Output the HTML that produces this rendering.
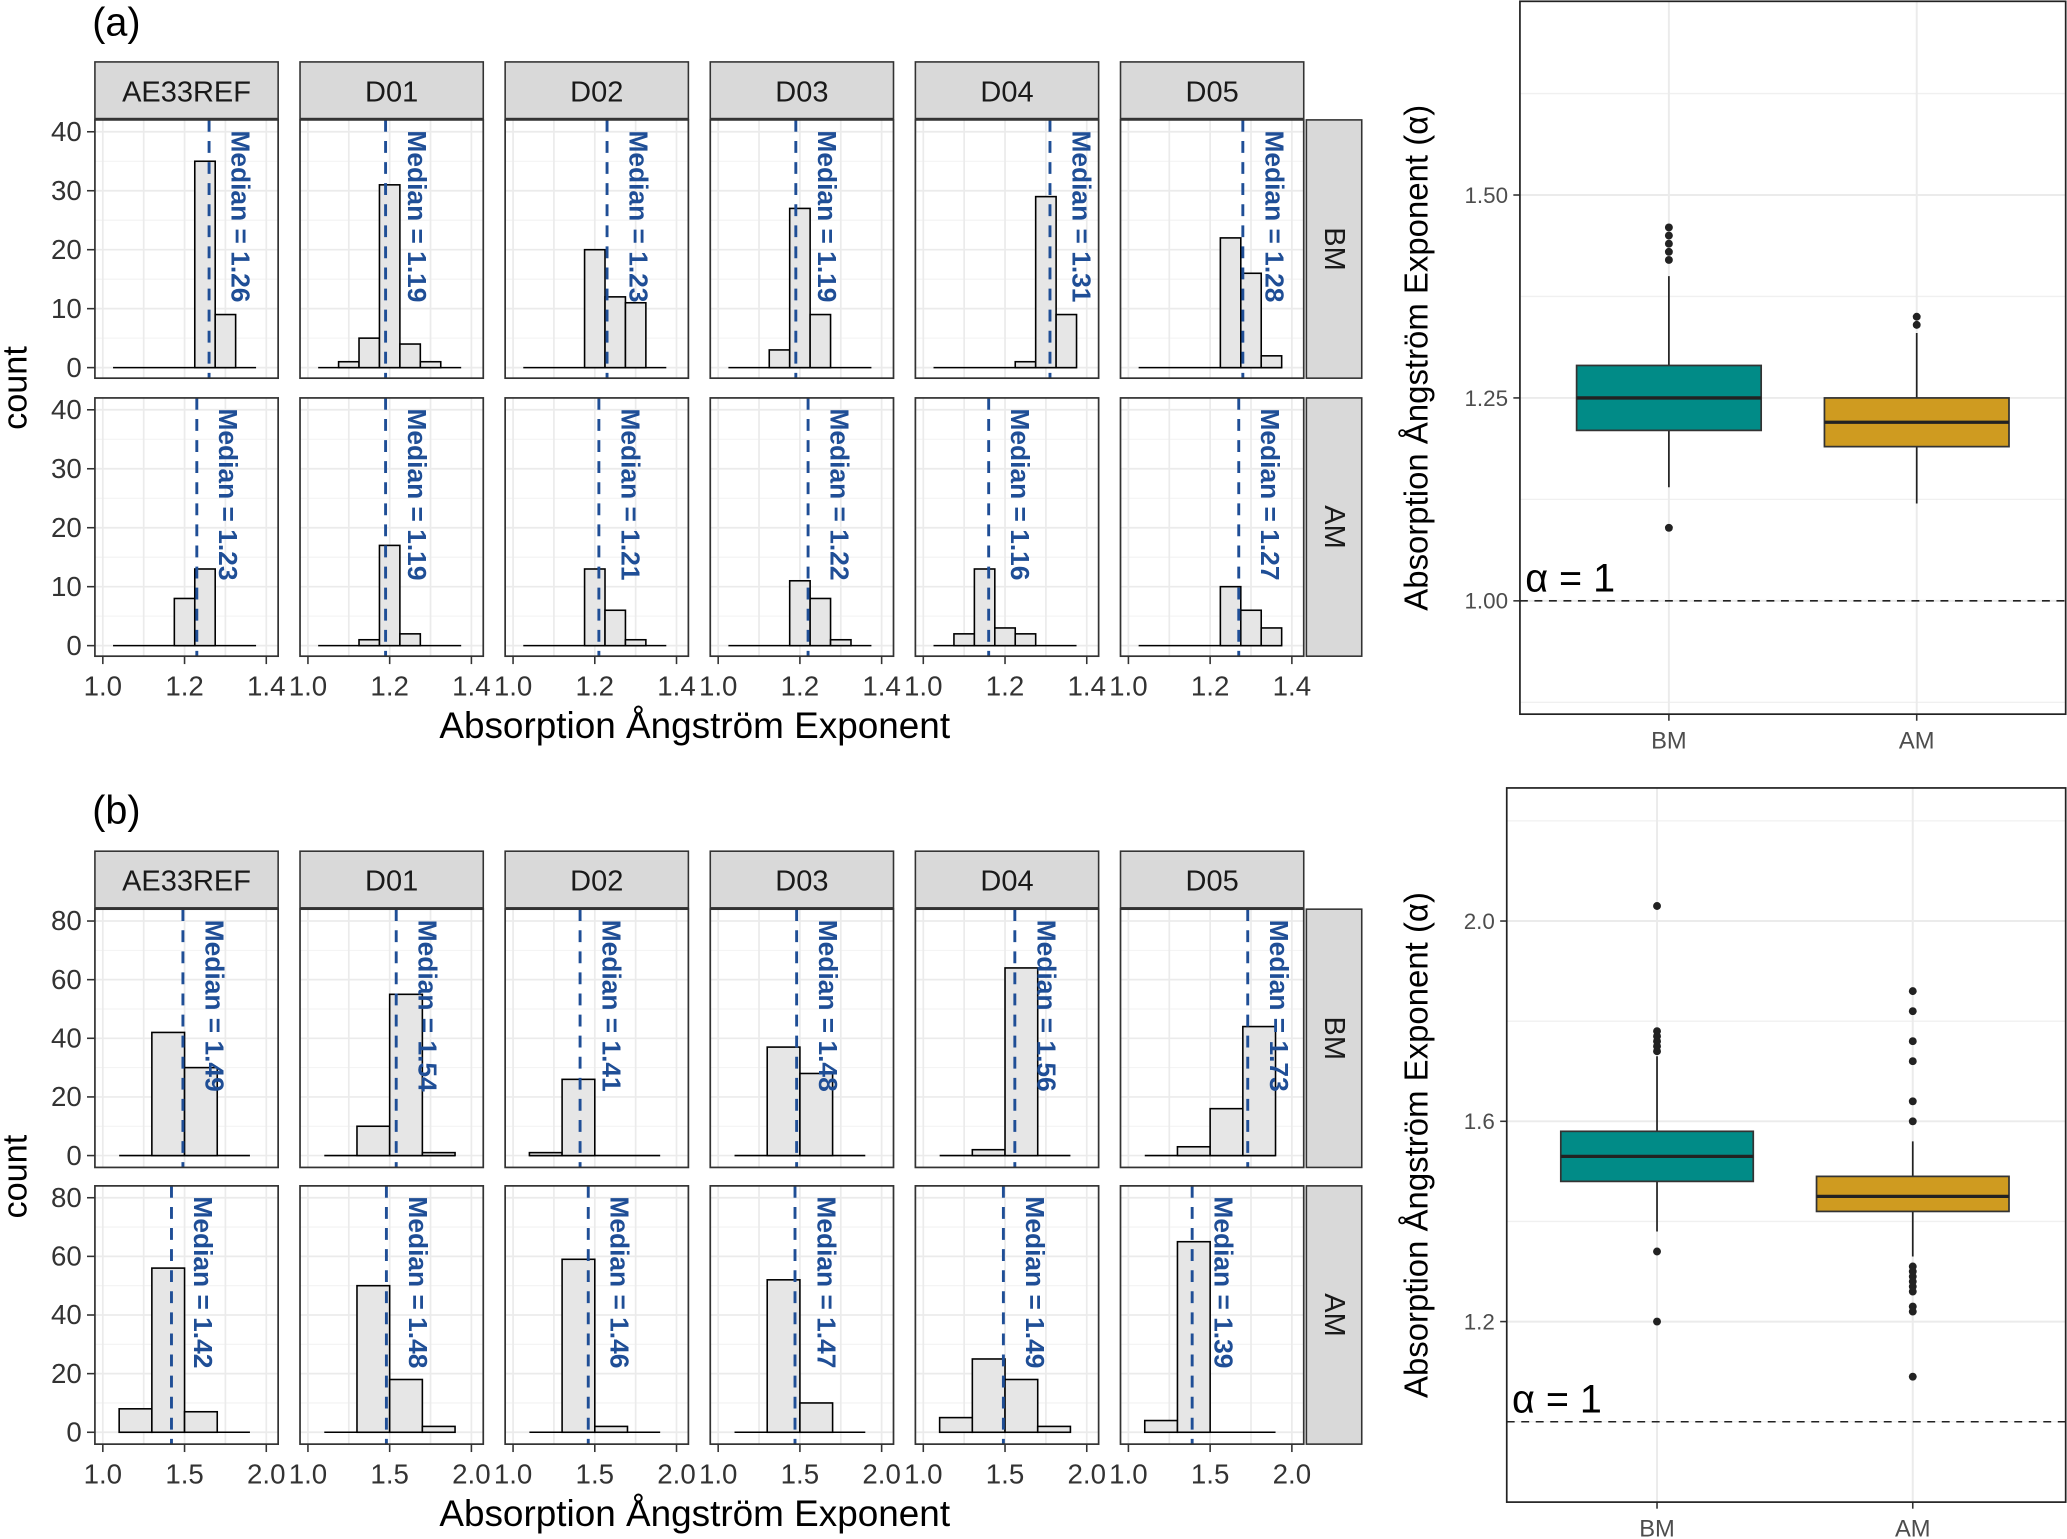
<!DOCTYPE html>
<html><head><meta charset="utf-8"><style>
html,body{margin:0;padding:0;background:#fff;}
svg{display:block;font-family:"Liberation Sans",sans-serif;}
</style></head><body>
<svg id="fig" width="2067" height="1539" viewBox="0 0 1568 1168" preserveAspectRatio="none"></svg>
<script>
// ---------- DATA ----------
const devices = ["AE33REF","D01","D02","D03","D04","D05"];
const rowsLab = ["BM","AM"];
// panel (a) bins centers (width 0.05)
const binsA = [1.05,1.10,1.15,1.20,1.25,1.30,1.35];
const countsA_BM = [[0,0,0,0,35,9,0],[0,1,5,31,4,1,0],[0,0,0,20,12,11,0],[0,0,3,27,9,0,0],[0,0,0,0,1,29,9],[0,0,0,0,22,16,2]];
const countsA_AM = [[0,0,0,8,13,0,0],[0,0,1,17,2,0,0],[0,0,0,13,6,1,0],[0,0,0,11,8,1,0],[0,2,13,3,2,0,0],[0,0,0,0,10,6,3]];
const medA_BM = [1.26,1.19,1.23,1.19,1.31,1.28];
const medA_AM = [1.23,1.19,1.21,1.22,1.16,1.27];
// panel (b) bins (width 0.2)
const binsB = [1.2,1.4,1.6,1.8];
const countsB_BM = [[0,42,30,0],[0,10,55,1],[1,26,0,0],[0,37,28,0],[0,2,64,0],[0,3,16,44]];
const countsB_AM = [[8,56,7,0],[0,50,18,2],[0,59,2,0],[0,52,10,0],[5,25,18,2],[4,65,0,0]];
const medB_BM = [1.49,1.54,1.41,1.48,1.56,1.73];
const medB_AM = [1.42,1.48,1.46,1.47,1.49,1.39];
const xTicksA = [1.0,1.2,1.4], xTickLabA = ["1.0","1.2","1.4"];
const xTicksB = [1.0,1.5,2.0], xTickLabB = ["1.0","1.5","2.0"];
const yTicksA = [0,10,20,30,40], yTicksB = [0,20,40,60,80];
// boxplot stats [low whisker, q1, median, q3, high whisker]
const boxA_BM = [1.14,1.21,1.25,1.29,1.40], boxA_AM = [1.12,1.19,1.22,1.25,1.33];
const outA_BM = [1.09,1.42,1.43,1.44,1.45,1.46], outA_AM = [1.34,1.35];
const boxB_BM = [1.38,1.48,1.53,1.58,1.73], boxB_AM = [1.33,1.42,1.45,1.49,1.56];
const outB_BM = [1.34,1.20,2.03,1.74,1.75,1.76,1.77,1.78], outB_AM = [1.86,1.82,1.76,1.72,1.64,1.60,1.31,1.30,1.29,1.28,1.27,1.26,1.23,1.22,1.09];
const boxTicksA = [1.00,1.25,1.50], boxTickLabA = ["1.00","1.25","1.50"];
const boxTicksB = [1.2,1.6,2.0], boxTickLabB = ["1.2","1.6","2.0"];

// ---------- DRAW ----------
const svg = document.getElementById('fig');
const NS = "http://www.w3.org/2000/svg";
function el(tag, attrs, parent, text){
  const e = document.createElementNS(NS, tag);
  for (const k in attrs) e.setAttribute(k, attrs[k]);
  if (text !== undefined) e.textContent = text;
  (parent||svg).appendChild(e); return e;
}
const panelX = [72,227.6,383.2,538.8,694.4,850];
const PW = 139;

function histFigure(cfg){
  const g = el('g', {}, svg);
  
  
  el('text',{x:70,y:cfg.labelY,'font-size':30,fill:'#000'},g,cfg.label);
  devices.forEach((d,i)=>{
    const s = el('rect',{x:panelX[i],y:cfg.stripY,width:PW,height:43,fill:'#d9d9d9',stroke:'#333','stroke-width':1.2},g);
    
    
    el('text',{x:panelX[i]+PW/2,y:cfg.stripY+30,'text-anchor':'middle','font-size':22,fill:'#1a1a1a'},g,d);
  });
  const rowsY = cfg.rowsY;
  rowsLab.forEach((r,ri)=>{
    const top = rowsY[ri], h = 196;
    const s = el('rect',{x:991,y:top,width:42,height:h,fill:'#d9d9d9',stroke:'#333','stroke-width':1.2},g);
    
    
    el('text',{x:1012,y:top+h/2,'text-anchor':'middle','font-size':22,fill:'#1a1a1a',transform:`rotate(90 1012 ${top+h/2})`,dy:7},g,r);
    const y0 = top + cfg.zeroOff, yTop = top + cfg.topOff;
    const yS = v => y0 - (v/cfg.yMax)*(y0-yTop);
    cfg.yTicks.forEach(t=>{
      el('line',{x1:66,x2:72,y1:yS(t),y2:yS(t),stroke:'#333','stroke-width':1.2},g);
      el('text',{x:62,y:yS(t)+7,'text-anchor':'end','font-size':21,fill:'#333'},g,String(t));
    });
    devices.forEach((d,i)=>{
      const px = panelX[i];
      const xS = v => px + 6 + (v-1.0)*cfg.xUnit;
      const pg = el('g',{},g);
      
      
      el('rect',{x:px,y:top,width:PW,height:h,fill:'#fff'},pg);
      cfg.yTicks.forEach((t,k)=>{
        el('line',{x1:px,x2:px+PW,y1:yS(t),y2:yS(t),stroke:'#ebebeb','stroke-width':1.3},pg);
        if(k<cfg.yTicks.length-1){const m=(t+cfg.yTicks[k+1])/2;el('line',{x1:px,x2:px+PW,y1:yS(m),y2:yS(m),stroke:'#f2f2f2','stroke-width':0.8},pg);}
      });
      cfg.xGrid.forEach(t=>{
        el('line',{x1:xS(t),x2:xS(t),y1:top,y2:top+h,stroke:'#ebebeb','stroke-width':1.3},pg);
      });
      const counts = cfg.counts[ri][i];
      const bins = cfg.bins, bw = cfg.bw;
      el('line',{x1:xS(bins[0]-bw/2),x2:xS(bins[bins.length-1]+bw/2),y1:y0,y2:y0,stroke:'#000','stroke-width':1.2},pg);
      counts.forEach((c,k)=>{
        if(c<=0) return;
        const b = el('rect',{x:xS(bins[k]-bw/2),y:yS(c),width:xS(bins[k]+bw/2)-xS(bins[k]-bw/2),height:y0-yS(c),fill:'#e6e6e6',stroke:'#000','stroke-width':1.2},pg);
        
        
      });
      const med = cfg.meds[ri][i];
      el('line',{x1:xS(med),x2:xS(med),y1:top,y2:top+h,stroke:'#1f4e96','stroke-width':2.2,'stroke-dasharray':'9,7'},pg);
      const tx = xS(med)+cfg.medOff;
      const mt = el('text',{x:tx,y:top+8,'font-size':20,'font-weight':'bold',fill:'#1f4e96',transform:`rotate(90 ${tx} ${top+8})`},pg,'Median = '+med.toFixed(2));
      
      
      el('rect',{x:px,y:top,width:PW,height:h,fill:'none',stroke:'#333','stroke-width':1.3},pg);
      if(ri===1){
        cfg.xTicks.forEach((t,k)=>{
          el('line',{x1:xS(t),x2:xS(t),y1:top+h,y2:top+h+6,stroke:'#333','stroke-width':1.2},g);
          el('text',{x:xS(t),y:top+h+30,'text-anchor':'middle','font-size':21,fill:'#333'},g,cfg.xTickLab[k]);
        });
      }
    });
  });
  el('text',{x:527,y:rowsY[1]+196+62,'text-anchor':'middle','font-size':28,fill:'#000'},g,'Absorption Ångström Exponent');
  const yl = el('text',{x:20,y:(rowsY[0]+rowsY[1]+196)/2,'text-anchor':'middle','font-size':26,fill:'#000',transform:`rotate(-90 20 ${(rowsY[0]+rowsY[1]+196)/2})`},g,'count');
  
  
}

histFigure({name:'histograms-a',label:'(a)',labelY:27,stripY:47,rowsY:[91,302],zeroOff:188,topOff:9,yMax:40,yTicks:yTicksA,
  xUnit:310,bins:binsA,bw:0.05,counts:[countsA_BM,countsA_AM],meds:[medA_BM,medA_AM],medOff:17,
  xTicks:xTicksA,xTickLab:xTickLabA,xGrid:[1.0,1.1,1.2,1.3,1.4]});
histFigure({name:'histograms-b',label:'(b)',labelY:625,stripY:646,rowsY:[690,900],zeroOff:187,topOff:9,yMax:80,yTicks:yTicksB,
  xUnit:124,bins:binsB,bw:0.2,counts:[countsB_BM,countsB_AM],meds:[medB_BM,medB_AM],medOff:17,
  xTicks:xTicksB,xTickLab:xTickLabB,xGrid:[1.0,1.25,1.5,1.75,2.0]});

function boxFigure(cfg){
  const g = el('g',{},svg);
  
  
  const L=cfg.x0,R=1567,T=cfg.y0,B=cfg.y1;
  const yS = v => cfg.ref[1] - (v-cfg.ref[0])*cfg.unit;
  el('rect',{x:L,y:T,width:R-L,height:B-T,fill:'#fff'},g);
  cfg.grid.forEach(v=>{ if(yS(v)>T&&yS(v)<B) el('line',{x1:L,x2:R,y1:yS(v),y2:yS(v),stroke:'#f0f0f0','stroke-width':1},g);});
  cfg.ticks.forEach((v,k)=>{
    el('line',{x1:L,x2:R,y1:yS(v),y2:yS(v),stroke:'#ebebeb','stroke-width':1.5},g);
    el('line',{x1:L-5,x2:L,y1:yS(v),y2:yS(v),stroke:'#333','stroke-width':1.2},g);
    el('text',{x:L-9,y:yS(v)+6,'text-anchor':'end','font-size':17,fill:'#4d4d4d'},g,cfg.tickLab[k]);
  });
  const cats=["BM","AM"], xs=cfg.xs, cols=['#018b87','#cf9b20'];
  xs.forEach(x=>el('line',{x1:x,x2:x,y1:T,y2:B,stroke:'#ebebeb','stroke-width':1.5},g));
  el('line',{x1:L,x2:R,y1:yS(1),y2:yS(1),stroke:'#222','stroke-width':1.2,'stroke-dasharray':'6,5'},g);
  el('text',{x:L+4,y:yS(1)-7,'font-size':30,fill:'#000'},g,'α = 1');
  [cfg.boxBM,cfg.boxAM].forEach((b,i)=>{
    const bg=el('g',{},g);
    
    
    const x=xs[i], hw=cfg.hw;
    el('line',{x1:x,x2:x,y1:yS(b[0]),y2:yS(b[4]),stroke:'#222','stroke-width':1.3},bg);
    el('rect',{x:x-hw,y:yS(b[3]),width:2*hw,height:yS(b[1])-yS(b[3]),fill:cols[i],stroke:'#333','stroke-width':1.3},bg);
    el('line',{x1:x-hw,x2:x+hw,y1:yS(b[2]),y2:yS(b[2]),stroke:'#222','stroke-width':2.5},bg);
    [cfg.outBM,cfg.outAM][i].forEach(o=>{
      const c=el('circle',{cx:x,cy:yS(o),r:3,fill:'#222'},bg);
      
      
    });
    el('line',{x1:x,x2:x,y1:B,y2:B+5,stroke:'#333','stroke-width':1.2},g);
    el('text',{x:x,y:B+26,'text-anchor':'middle','font-size':18,fill:'#4d4d4d'},g,cats[i]);
  });
  el('rect',{x:L,y:T,width:R-L,height:B-T,fill:'none',stroke:'#222','stroke-width':1.3},g);
  const cy=(T+B)/2, tx=L-cfg.titleOff;
  const t=el('text',{x:tx,y:cy,'text-anchor':'middle','font-size':25,fill:'#000',transform:`rotate(-90 ${tx} ${cy})`},g,'Absorption Ångström Exponent  (α)');
  
  
}
boxFigure({name:'boxplot-a',x0:1153,y0:1,y1:542,ref:[1.25,302],unit:616,ticks:boxTicksA,tickLab:boxTickLabA,grid:[0.875,1.125,1.375,1.625],
  xs:[1266,1454],hw:70,boxBM:boxA_BM,boxAM:boxA_AM,outBM:outA_BM,outAM:outA_AM,titleOff:70});
boxFigure({name:'boxplot-b',x0:1143,y0:598,y1:1140,ref:[1.6,851],unit:380,ticks:boxTicksB,tickLab:boxTickLabB,grid:[1.0,1.4,1.8,2.2],
  xs:[1257,1451],hw:73,boxBM:boxB_BM,boxAM:boxB_AM,outBM:outB_BM,outAM:outB_AM,titleOff:60});
</script>
</body></html>
